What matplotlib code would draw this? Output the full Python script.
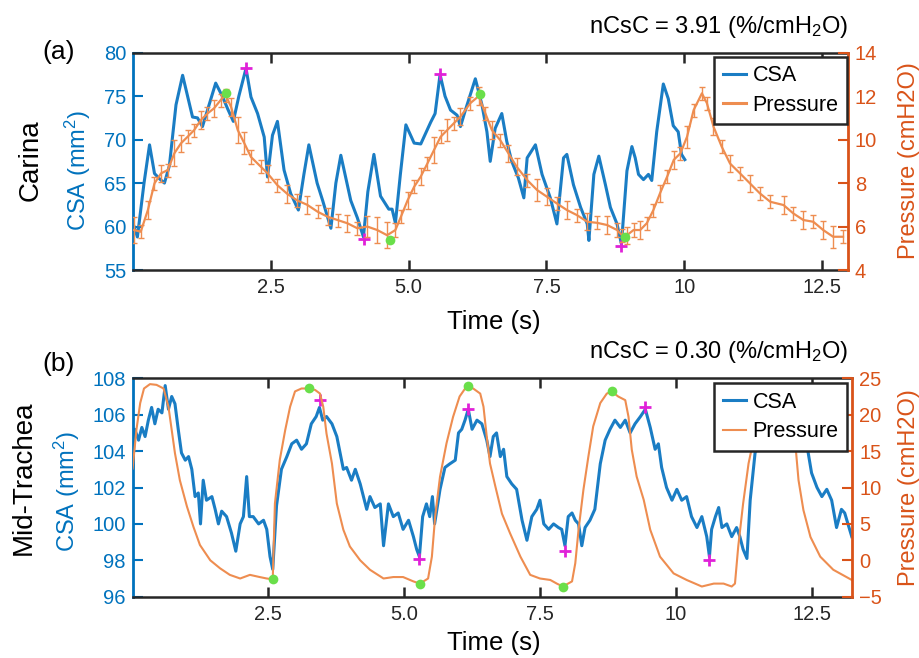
import matplotlib
matplotlib.use('Agg')
import matplotlib.pyplot as plt

plt.rcParams['font.family'] = ['Liberation Sans', 'DejaVu Sans']
plt.rcParams['mathtext.fontset'] = 'custom'
plt.rcParams['mathtext.rm'] = 'Liberation Sans'
plt.rcParams['mathtext.it'] = 'Liberation Sans:italic'

# ---- panel (a) Carina ----
t_csa_a = [0.02, 0.08, 0.20, 0.30, 0.39, 0.48, 0.57, 0.66, 0.78, 0.90, 0.99, 1.08, 1.17, 1.26,
           1.38, 1.50, 1.62, 1.72, 1.82, 1.92, 2.05, 2.14, 2.26, 2.38, 2.44, 2.53, 2.62, 2.74,
           2.86, 3.00, 3.10, 3.19, 3.34, 3.44, 3.59, 3.68, 3.77, 3.95, 4.07, 4.18, 4.26, 4.37,
           4.49, 4.64, 4.70, 4.76, 4.85, 4.95, 5.10, 5.22, 5.40, 5.48, 5.57, 5.66, 5.76, 5.88,
           5.94, 6.03, 6.21, 6.33, 6.42, 6.48, 6.57, 6.69, 6.78, 6.87, 6.99, 7.09, 7.15, 7.30,
           7.42, 7.57, 7.69, 7.81, 7.87, 7.99, 8.12, 8.24, 8.27, 8.36, 8.45, 8.57, 8.66, 8.78,
           8.86, 8.96, 9.05, 9.11, 9.17, 9.26, 9.35, 9.41, 9.50, 9.62, 9.71, 9.80, 9.89, 9.95,
           10.01]
csa_a = [60.0, 58.8, 65.0, 69.4, 66.1, 65.5, 65.0, 67.0, 74.0, 77.4, 75.0, 72.6, 72.5, 71.5,
         74.0, 76.5, 75.0, 73.5, 72.1, 75.0, 78.2, 74.9, 73.0, 70.3, 65.7, 70.5, 72.1, 66.5,
         63.8, 61.9, 66.0, 69.4, 65.0, 63.0, 59.8, 65.0, 68.2, 63.0, 61.0, 58.8, 64.0, 68.3,
         63.5, 62.0, 62.0, 60.4, 66.0, 71.7, 69.6, 69.5, 72.0, 73.0, 77.5, 75.0, 73.4, 72.8,
         71.5, 73.4, 77.0, 74.0, 70.9, 67.5, 71.3, 73.0, 69.8, 67.5, 65.6, 63.3, 67.9, 69.4,
         66.0, 63.3, 60.3, 67.9, 68.3, 64.8, 62.2, 60.3, 58.4, 66.0, 68.1, 64.8, 62.2, 60.3,
         58.0, 66.4, 69.2, 67.9, 66.0, 65.4, 66.0, 65.3, 70.9, 76.4, 74.7, 71.6, 70.9, 68.3,
         67.7]

t_p_a = [0.02, 0.14, 0.27, 0.39, 0.51, 0.63, 0.75, 0.87, 0.99, 1.11, 1.23, 1.35, 1.47, 1.59,
         1.68, 1.78, 1.90, 2.02, 2.14, 2.32, 2.44, 2.62, 2.80, 2.98, 3.16, 3.35, 3.53, 3.71,
         3.89, 4.07, 4.25, 4.43, 4.61, 4.76, 4.86, 4.98, 5.10, 5.22, 5.34, 5.46, 5.58, 5.70,
         5.82, 5.94, 6.12, 6.27, 6.39, 6.51, 6.66, 6.81, 6.96, 7.15, 7.33, 7.51, 7.69, 7.87,
         8.05, 8.24, 8.42, 8.60, 8.78, 8.87, 8.96, 9.08, 9.20, 9.32, 9.44, 9.56, 9.69, 9.81,
         9.93, 10.05, 10.17, 10.32, 10.41, 10.53, 10.68, 10.83, 11.01, 11.19, 11.37, 11.56,
         11.80, 11.98, 12.16, 12.34, 12.52, 12.70, 12.88]
p_a = [5.84, 5.76, 6.76, 7.99, 8.45, 8.60, 9.37, 9.83, 10.13, 10.44, 10.90, 11.20, 11.44, 11.82,
       12.05, 11.50, 10.44, 9.83, 9.20, 8.75, 8.45, 7.90, 7.50, 7.20, 7.00, 6.68, 6.45, 6.30,
       6.15, 5.92, 6.00, 5.84, 5.60, 5.84, 6.45, 7.20, 7.83, 8.30, 8.90, 9.52, 10.13, 10.44,
       10.75, 11.06, 11.68, 12.00, 11.22, 10.44, 9.98, 9.37, 8.75, 8.14, 7.68, 7.37, 7.06, 6.76,
       6.53, 6.22, 6.17, 6.07, 5.84, 5.60, 5.60, 5.84, 5.84, 6.15, 6.76, 7.53, 8.30, 9.07,
       9.37, 10.13, 11.36, 12.13, 11.68, 10.60, 9.67, 8.90, 8.45, 7.99, 7.53, 7.14,
       6.99, 6.60, 6.30, 6.22, 5.84, 5.53, 5.53]
p_err_a = [0.6, 0.3, 0.4, 0.3, 0.4, 0.3, 0.6, 0.4, 0.3, 0.3, 0.4, 0.3, 0.4, 0.3,
           0.3, 0.4, 0.6, 0.5, 0.3, 0.3, 0.4, 0.3, 0.4, 0.3, 0.4, 0.3, 0.4, 0.3,
           0.4, 0.3, 0.5, 0.6, 0.6, 0.3, 0.3, 0.4, 0.3, 0.4, 0.3, 0.6, 0.3, 0.5,
           0.3, 0.4, 0.3, 0.4, 0.3, 0.4, 0.3, 0.4, 0.4, 0.3, 0.5, 0.4, 0.3, 0.4,
           0.3, 0.4, 0.3, 0.4, 0.3, 0.3, 0.4, 0.3, 0.4, 0.3, 0.3, 0.4, 0.3, 0.4,
           0.3, 0.5, 0.3, 0.3, 0.3, 0.4, 0.3, 0.4, 0.3, 0.4, 0.3, 0.3,
           0.4, 0.3, 0.4, 0.3, 0.4, 0.5, 0.3]

plus_t_a = [2.05, 4.19, 5.57, 8.85]
plus_csa_a = [78.2, 58.6, 77.5, 57.8]
dot_t_a = [1.68, 4.66, 6.29, 8.93]
dot_p_a = [12.13, 5.38, 12.10, 5.53]

# ---- panel (b) Mid-Trachea ----
t_csa_b = [0.00, 0.04, 0.11, 0.17, 0.23, 0.29, 0.35, 0.41, 0.47, 0.54, 0.60, 0.66, 0.72, 0.78,
           0.84, 0.90, 0.97, 1.03, 1.09, 1.15, 1.21, 1.25, 1.30, 1.36, 1.46, 1.52, 1.58, 1.64,
           1.73, 1.82, 1.90, 1.98, 2.04, 2.10, 2.15, 2.22, 2.32, 2.41, 2.47, 2.53, 2.58, 2.65,
           2.74, 2.84, 2.93, 3.02, 3.11, 3.20, 3.29, 3.38, 3.44, 3.50, 3.57, 3.67, 3.76, 3.82,
           3.88, 3.94, 4.03, 4.10, 4.19, 4.25, 4.31, 4.37, 4.46, 4.56, 4.62, 4.71, 4.80, 4.89,
           4.98, 5.08, 5.17, 5.23, 5.28, 5.34, 5.41, 5.47, 5.52, 5.56, 5.66, 5.75, 5.84, 5.94,
           6.00, 6.06, 6.12, 6.18, 6.25, 6.34, 6.43, 6.52, 6.58, 6.64, 6.70, 6.77, 6.83, 6.89,
           6.98, 7.07, 7.17, 7.26, 7.35, 7.44, 7.50, 7.57, 7.66, 7.75, 7.84, 7.90, 7.96, 8.02,
           8.09, 8.15, 8.21, 8.27, 8.33, 8.42, 8.51, 8.61, 8.70, 8.79, 8.88, 8.98, 9.07, 9.16,
           9.25, 9.35, 9.44, 9.53, 9.62, 9.68, 9.74, 9.83, 9.93, 10.02, 10.11, 10.20, 10.29,
           10.39, 10.48, 10.57, 10.62, 10.66, 10.73, 10.79, 10.85, 10.94, 11.03, 11.12, 11.18,
           11.24, 11.31, 11.37, 11.46, 11.55, 11.67, 11.80, 11.98, 12.11, 12.29, 12.41, 12.50,
           12.60, 12.69, 12.78, 12.87, 12.96, 13.05, 13.11, 13.17, 13.24]
csa_b = [103.05, 105.2, 104.6, 105.3, 104.8, 105.7, 106.4, 105.5, 106.3, 106.1, 107.6, 106.3,
         107.0, 106.6, 105.2, 103.9, 103.5, 103.7, 103.0, 101.5, 101.7, 100.0, 102.4, 101.3,
         101.5, 100.8, 100.0, 100.7, 100.4, 99.5, 98.5, 100.0, 100.4, 102.6, 100.4, 100.4,
         100.0, 100.2, 99.7, 98.2, 97.5, 101.0, 103.0, 103.7, 104.4, 104.6, 104.1, 104.4,
         105.5, 105.9, 106.4, 105.7, 105.9, 105.5, 104.8, 103.9, 103.0, 103.1, 102.4, 103.0,
         102.2, 101.5, 100.8, 101.5, 100.9, 101.1, 98.8, 101.1, 100.4, 100.6, 99.7, 100.2,
         99.3, 98.6, 98.2, 100.4, 101.1, 100.4, 101.5, 100.0, 101.9, 103.1, 103.3, 103.5,
         105.0, 105.2, 105.7, 106.3, 105.2, 105.7, 105.5, 104.6, 103.7, 104.8, 105.0, 103.7,
         104.1, 102.6, 102.2, 101.9, 100.2, 99.1, 100.4, 100.8, 101.3, 100.0, 99.7, 100.0,
         99.8, 99.7, 98.8, 100.4, 100.6, 100.2, 100.0, 98.8, 99.8, 100.2, 100.8, 103.3, 104.6,
         105.2, 105.7, 105.3, 105.7, 105.0, 105.5, 105.9, 106.3, 105.3, 104.1, 104.4, 103.1,
         102.0, 101.3, 101.9, 101.3, 101.5, 100.4, 99.8, 100.4, 99.3, 98.2, 99.7, 100.4,
         100.9, 99.8, 100.0, 99.3, 99.8, 99.3, 98.6, 98.1, 101.3, 103.9, 104.6, 104.7, 104.9,
         104.2, 104.8, 105.0, 104.4, 102.8, 102.0, 101.5, 101.9, 101.3, 99.8, 100.8, 100.6,
         100.0, 99.3]

t_p_b = [0.00, 0.07, 0.14, 0.21, 0.32, 0.44, 0.57, 0.66, 0.72, 0.78, 0.87, 1.00, 1.12, 1.24,
         1.43, 1.61, 1.79, 1.98, 2.16, 2.34, 2.47, 2.58, 2.62, 2.71, 2.81, 2.90, 2.99, 3.11,
         3.24, 3.36, 3.45, 3.51, 3.57, 3.67, 3.76, 3.88, 4.00, 4.19, 4.37, 4.62, 4.80, 4.98,
         5.17, 5.29, 5.44, 5.51, 5.57, 5.66, 5.78, 5.90, 6.02, 6.15, 6.27, 6.40, 6.46, 6.52,
         6.58, 6.68, 6.80, 6.95, 7.14, 7.32, 7.50, 7.69, 7.81, 7.92, 8.09, 8.15, 8.21, 8.30,
         8.39, 8.48, 8.61, 8.73, 8.82, 8.94, 9.07, 9.13, 9.19, 9.28, 9.41, 9.53, 9.71, 9.96,
         10.20, 10.48, 10.70, 10.88, 11.03, 11.09, 11.15, 11.24, 11.34, 11.43, 11.55, 11.80,
         12.04, 12.14, 12.20, 12.26, 12.35, 12.48, 12.66, 12.90, 13.24]
p_b = [12.6, 17.9, 21.6, 23.6, 24.2, 24.1, 23.6, 21.1, 17.9, 14.7, 11.0, 7.4, 4.6, 2.1,
       0.0, -1.1, -2.0, -2.5, -2.0, -2.3, -2.5, -2.6, 7.8, 13.8, 17.9, 21.1, 23.2, 23.6,
       23.6, 23.4, 22.9, 21.1, 17.4, 13.3, 7.8, 4.2, 1.9, 0.0, -1.3, -2.5, -2.3, -2.3,
       -2.9, -3.2, -2.5, 0.5, 6.0, 11.5, 16.1, 19.7, 22.5, 23.9, 23.6, 22.9, 21.1, 17.0,
       13.3, 10.1, 6.4, 3.7, 0.5, -2.0, -2.5, -2.7, -3.2, -3.6, -2.9, -0.4, 4.2, 9.7,
       14.2, 18.4, 21.6, 22.9, 23.2, 22.5, 22.0, 19.7, 15.2, 11.5, 8.3, 4.2, 0.5, -1.8,
       -2.7, -3.6, -3.2, -3.2, -3.6, -3.2, 1.9, 7.8, 13.3, 16.5, 20.5, 23.5,
       22.5, 19.5, 16.1, 11.0, 6.9, 3.2, 0.5, -1.3, -2.7]

plus_t_b = [3.45, 5.28, 6.18, 7.96, 9.44, 10.62]
plus_csa_b = [106.8, 98.05, 106.3, 98.5, 106.4, 98.0]
dot_t_b = [2.58, 3.24, 5.29, 6.17, 7.92, 8.82]
dot_p_b = [-2.6, 23.6, -3.2, 23.9, -3.6, 23.2]

x_ticks = [2.5, 5.0, 7.5, 10, 12.5]
x_tick_labels = ['2.5', '5.0', '7.5', '10', '12.5']

BLUE = '#0072BD'
CSA_LINE = '#1A7DC4'
ORANGE = '#D95319'
P_LINE = '#EE8D50'
DARK = '#262626'
MAGENTA = '#E021D8'
GREEN = '#6ADF4A'

W, H = 920, 658
fig = plt.figure(figsize=(W / 100, H / 100), dpi=100)


def fx(px):
    return px / W


def fy(py):
    return 1 - py / H


def panel(box, xmax, csa_lim, csa_ticks, p_lim, p_ticks, t_csa, csa, t_p, p, p_err,
          plus_t, plus_v, dot_t, dot_v, p_lw, leg_anchor):
    l, t, r, b = box
    ax = fig.add_axes([fx(l), fy(b), fx(r - l), (b - t) / H])
    ax2 = ax.twinx()

    ln1, = ax.plot(t_csa, csa, color=CSA_LINE, lw=2.2)
    ax.plot(plus_t, plus_v, '+', color=MAGENTA, ms=9, mew=2, zorder=5)
    if p_err is not None:
        ax2.errorbar(t_p, p, yerr=p_err, color=P_LINE, lw=p_lw, elinewidth=1.0,
                     capsize=2, capthick=1.0)
        ln2, = ax2.plot([], [], color=P_LINE, lw=2.2)
    else:
        ln2, = ax2.plot(t_p, p, color=P_LINE, lw=p_lw)
    ax2.plot(dot_t, dot_v, 'o', color=GREEN, ms=7, mec='none', zorder=5)

    ax.set_xlim(0, xmax)
    ax.set_ylim(*csa_lim)
    ax.set_yticks(csa_ticks)
    ax2.set_ylim(*p_lim)
    ax2.set_yticks(p_ticks)
    ax.set_xticks(x_ticks)
    ax.set_xticklabels(x_tick_labels)

    for s in ['top', 'bottom']:
        ax.spines[s].set_color(DARK)
        ax.spines[s].set_linewidth(1.8)
        ax2.spines[s].set_visible(False)
    ax.spines['left'].set_color(BLUE)
    ax.spines['left'].set_linewidth(2.0)
    ax.spines['right'].set_visible(False)
    ax2.spines['left'].set_visible(False)
    ax2.spines['right'].set_color(ORANGE)
    ax2.spines['right'].set_linewidth(2.0)

    ax.tick_params(axis='x', direction='in', top=True, length=7, width=1.8, colors=DARK,
                   labelsize=14.5, pad=6)
    ax.tick_params(axis='y', direction='in', length=7, width=1.5, colors=BLUE,
                   labelsize=14.5, pad=5)
    ax2.tick_params(axis='y', direction='in', length=7, width=1.5, colors=ORANGE,
                    labelsize=14.5, pad=5)

    leg = ax2.legend([ln1, ln2], ['CSA', 'Pressure'], loc='upper right',
                     bbox_to_anchor=leg_anchor, borderaxespad=0, fontsize=15.5,
                     fancybox=False, framealpha=1, edgecolor=DARK, handlelength=1.1,
                     handletextpad=0.3, borderpad=0.4, labelspacing=0.4)
    leg.get_frame().set_linewidth(1.8)
    return ax, ax2


panel((133, 52.7, 848, 270), 12.97, (55, 80), [55, 60, 65, 70, 75, 80], (4, 14),
      [4, 6, 8, 10, 12, 14], t_csa_a, csa_a, t_p_a, p_a, p_err_a,
      plus_t_a, plus_csa_a, dot_t_a, dot_p_a, 1.6, (0.999, 0.982))
panel((132.6, 378.3, 852.3, 596.7), 13.25, (96, 108), [96, 98, 100, 102, 104, 106, 108],
      (-5, 25), [-5, 0, 5, 10, 15, 20, 25], t_csa_b, csa_b, t_p_b, p_b, None,
      plus_t_b, plus_csa_b, dot_t_b, dot_p_b, 1.5, (0.993, 0.978))

# labels
fig.text(fx(59), fy(52), '(a)', fontsize=19, ha='center', va='center', color='black')
fig.text(fx(59), fy(364), '(b)', fontsize=19, ha='center', va='center', color='black')
fig.text(fx(31), fy(160), 'Carina', fontsize=20, rotation=90, ha='center', va='center')
fig.text(fx(24), fy(478), 'Mid-Trachea', fontsize=20, rotation=90, ha='center', va='center')
fig.text(fx(78), fy(171), 'CSA (mm$^2$)', fontsize=17, rotation=90, ha='center', va='center',
         color=BLUE)
fig.text(fx(67), fy(492), 'CSA (mm$^2$)', fontsize=17, rotation=90, ha='center', va='center',
         color=BLUE)
fig.text(fx(909), fy(161), 'Pressure (cmH2O)', fontsize=17, rotation=90, ha='center',
         va='center', color=ORANGE)
fig.text(fx(909), fy(488), 'Pressure (cmH2O)', fontsize=17, rotation=90, ha='center',
         va='center', color=ORANGE)
fig.text(fx(848), fy(33), 'nCsC = 3.91 (%/cmH$_2$O)', fontsize=17, ha='right',
         va='baseline')
fig.text(fx(848), fy(358), 'nCsC = 0.30 (%/cmH$_2$O)', fontsize=17, ha='right',
         va='baseline')
fig.text(fx(494), fy(322), 'Time (s)', fontsize=18.5, ha='center', va='center')
fig.text(fx(494), fy(643), 'Time (s)', fontsize=18.5, ha='center', va='center')

fig.savefig('out.png', dpi=100)
